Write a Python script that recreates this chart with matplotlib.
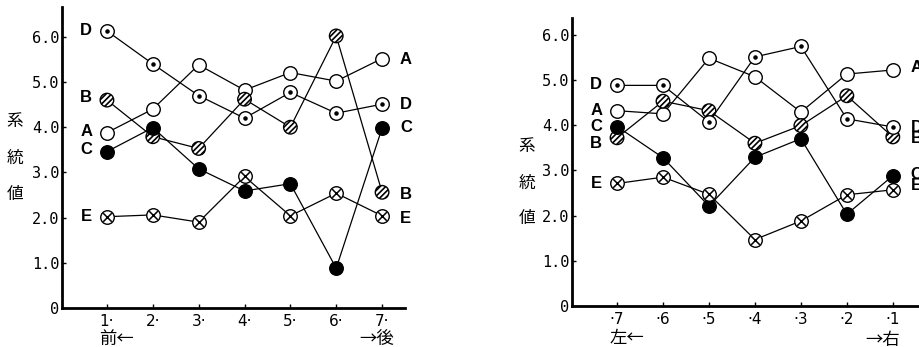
import matplotlib
matplotlib.use("Agg")
import matplotlib.pyplot as plt

plt.rcParams['hatch.linewidth'] = 1.2

CJK = ['Noto Sans CJK JP', 'DejaVu Sans']

# left panel: front <- ... -> back
left_ticks = ["1·", "2·", "3·", "4·", "5·", "6·", "7·"]
left_A = [3.88, 4.40, 5.38, 4.82, 5.21, 5.02, 5.52]
left_B = [4.60, 3.79, 3.53, 4.62, 4.00, 6.02, 2.56]
left_C = [3.46, 3.99, 3.08, 2.59, 2.75, 0.88, 3.98]
left_D = [6.13, 5.40, 4.70, 4.20, 4.77, 4.31, 4.51]
left_E = [2.02, 2.06, 1.90, 2.91, 2.04, 2.54, 2.04]

# right panel: left <- ... -> right
right_ticks = ["·7", "·6", "·5", "·4", "·3", "·2", "·1"]
right_A = [4.32, 4.25, 5.48, 5.07, 4.29, 5.13, 5.22]
right_B = [3.72, 4.53, 4.32, 3.60, 3.99, 4.65, 3.74]
right_C = [3.97, 3.28, 2.21, 3.29, 3.70, 2.03, 2.88]
right_D = [4.88, 4.88, 4.07, 5.51, 5.74, 4.14, 3.96]
right_E = [2.71, 2.85, 2.47, 1.47, 1.88, 2.46, 2.57]

# label heights (where the letters sit next to the end points)
left_start_lab = {"D": 6.15, "B": 4.65, "A": 3.90, "C": 3.50, "E": 2.02}
left_end_lab = {"A": 5.50, "D": 4.50, "C": 4.00, "B": 2.52, "E": 1.98}
right_start_lab = {"D": 4.91, "A": 4.32, "C": 3.96, "B": 3.59, "E": 2.72}
right_end_lab = {"A": 5.27, "D": 3.95, "B": 3.70, "C": 2.90, "E": 2.66}

S = 95


def draw_series(ax, x, y, kind):
    ax.plot(x, y, color='black', lw=0.9, zorder=1)
    if kind == 'filled':
        ax.scatter(x, y, s=S, facecolor='black', edgecolor='black', lw=1, zorder=3)
    elif kind == 'hatch':
        ax.scatter(x, y, s=S, facecolor='white', edgecolor='black', lw=1,
                   hatch='//////', zorder=3)
    else:
        ax.scatter(x, y, s=S, facecolor='white', edgecolor='black', lw=1, zorder=3)
        if kind == 'dot':
            ax.scatter(x, y, s=5, color='black', zorder=4)
        elif kind == 'cross':
            ax.scatter(x, y, s=38, marker='x', color='black', lw=1.1, zorder=4)


def setup_axes(ax, ticks, ytop, xmin, xmax):
    ax.set_xlim(xmin, xmax)
    ax.set_ylim(0, ytop)
    ax.spines['top'].set_visible(False)
    ax.spines['right'].set_visible(False)
    ax.spines['left'].set_linewidth(2)
    ax.spines['bottom'].set_linewidth(2)
    ax.set_xticks(range(1, 8))
    ax.set_xticklabels(ticks, fontsize=11)
    ax.set_yticks([0, 1, 2, 3, 4, 5, 6])
    ax.set_yticklabels(["0", "1.0", "2.0", "3.0", "4.0", "5.0", "6.0"],
                       fontsize=11, family='DejaVu Sans Mono')
    ax.tick_params(axis='y', direction='in', length=3, width=1, pad=2)
    ax.tick_params(axis='x', direction='in', length=3, width=1, pad=4)
    ax.patch.set_alpha(0)


fig = plt.figure(figsize=(9.19, 3.47), dpi=100)

ax1 = fig.add_axes([62 / 919, 39 / 347, 343 / 919, 301 / 347])
ax2 = fig.add_axes([572 / 919, 41 / 347, 347 / 919, 288 / 347])

setup_axes(ax1, left_ticks, 6.66, 0.02, 7.5)
setup_axes(ax2, right_ticks, 6.37, 0.02, 7.57)

xs = list(range(1, 8))
kinds = {"A": 'open', "B": 'hatch', "C": 'filled', "D": 'dot', "E": 'cross'}

left_data = {"A": left_A, "B": left_B, "C": left_C, "D": left_D, "E": left_E}
right_data = {"A": right_A, "B": right_B, "C": right_C, "D": right_D, "E": right_E}

for ax, data, lab0, lab1 in [(ax1, left_data, left_start_lab, left_end_lab),
                             (ax2, right_data, right_start_lab, right_end_lab)]:
    for name, vals in data.items():
        draw_series(ax, xs, vals, kinds[name])
    for name, yv in lab0.items():
        ax.text(0.55, yv, name, ha='center', va='center', fontsize=12,
                fontweight='bold', family='Liberation Sans', clip_on=False)
    for name, yv in lab1.items():
        ax.text(7.52, yv, name, ha='center', va='center', fontsize=12,
                fontweight='bold', family='Liberation Sans', clip_on=False)

# vertical y-axis labels
for ch, yp in zip("系統値", [122, 158, 194]):
    fig.text(15 / 919, 1 - yp / 347, ch, ha='center', va='center',
             fontsize=12, family=CJK)
for ch, yp in zip("系統値", [147, 183, 218]):
    fig.text(527 / 919, 1 - yp / 347, ch, ha='center', va='center',
             fontsize=12, family=CJK)

# direction labels under the x axis
fig.text(117 / 919, 1 - 339 / 347, "前←", ha='center', va='center', fontsize=12.5, family=CJK)
fig.text(377 / 919, 1 - 339 / 347, "→後", ha='center', va='center', fontsize=12.5, family=CJK)
fig.text(627 / 919, 1 - 338 / 347, "左←", ha='center', va='center', fontsize=12.5, family=CJK)
fig.text(883 / 919, 1 - 340 / 347, "→右", ha='center', va='center', fontsize=12.5, family=CJK)

fig.savefig("out.png", dpi=100)
